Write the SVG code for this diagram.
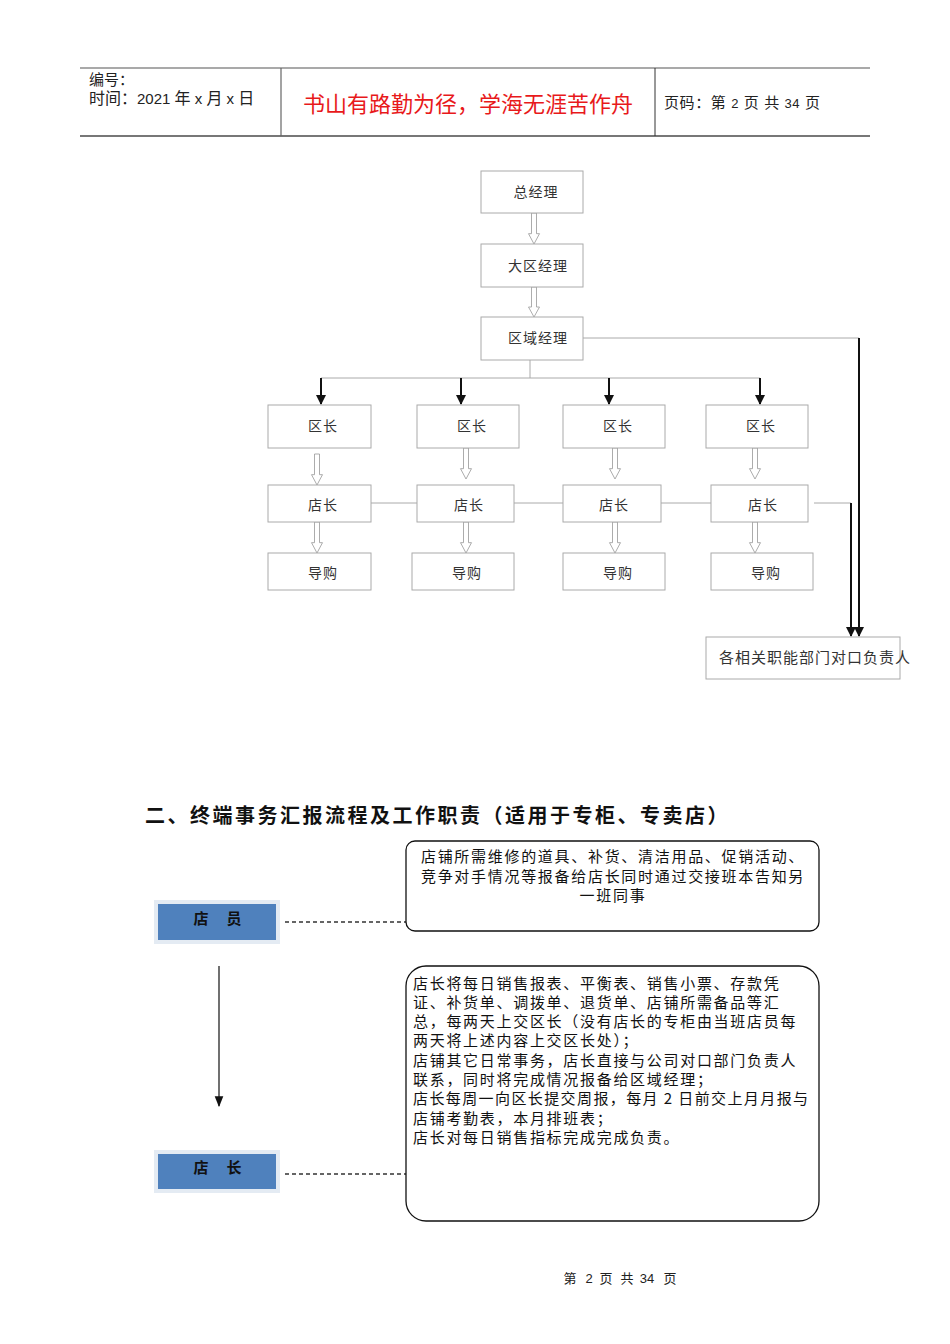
<svg xmlns="http://www.w3.org/2000/svg" width="950" height="1344" viewBox="0 0 950 1344">
<defs>
<style>
.t{font-family:"Liberation Sans","Noto Sans CJK SC",sans-serif;fill:#222}
.c{font-family:"Noto Sans CJK SC",sans-serif;fill:#333;font-size:14px;text-anchor:middle;letter-spacing:1px}
.box{fill:#fff;stroke:#aaa;stroke-width:1}
.ha{fill:#fff;stroke:#999;stroke-width:0.8}
.thin{stroke:#aaa;stroke-width:1;fill:none}
.blk{stroke:#111;stroke-width:2;fill:none}
.rb{fill:#fff;stroke:#111;stroke-width:1.3}
.blue{fill:#4f81bd;stroke:#e4ebf3;stroke-width:4}
.dash{stroke:#333;stroke-width:1.3;stroke-dasharray:4,3;fill:none}
.nt{font-family:"Noto Sans CJK SC",sans-serif;font-size:15px;fill:#111;letter-spacing:1.7px}
.bl{font-family:"Noto Sans CJK SC",sans-serif;font-size:15px;font-weight:bold;fill:#111;text-anchor:middle}
</style>
<marker id="ah" viewBox="0 0 10 10" refX="9" refY="5" markerWidth="5" markerHeight="6" orient="auto" markerUnits="strokeWidth"><path d="M0,0 L10,5 L0,10 z" fill="#111"/></marker>
<marker id="ah2" viewBox="0 0 10 10" refX="9" refY="5" markerWidth="9" markerHeight="9" orient="auto" markerUnits="strokeWidth"><path d="M0,1 L10,5 L0,9 z" fill="#111"/></marker>
<symbol id="hollow" viewBox="0 0 12 30" preserveAspectRatio="none" overflow="visible"><path d="M3.5,0 H8.5 V20 H11.5 L6,30 L0.5,20 H3.5 Z" class="ha"/></symbol>
</defs>

<g id="header">
<line x1="80" y1="68" x2="870" y2="68" stroke="#555" stroke-width="1.2"/>
<line x1="80" y1="136" x2="870" y2="136" stroke="#777" stroke-width="2"/>
<line x1="281" y1="68" x2="281" y2="136" stroke="#666" stroke-width="1.2"/>
<line x1="655" y1="68" x2="655" y2="136" stroke="#333" stroke-width="1"/>
<text class="t" x="89" y="85" font-size="15">编号：</text>
<text class="t" x="89" y="104" font-size="15"><tspan font-size="16">时间：</tspan>2021 <tspan font-size="16">年</tspan> x <tspan font-size="16">月</tspan> x <tspan font-size="16">日</tspan></text>
<text x="468" y="112" font-size="22" text-anchor="middle" fill="#e8191b" font-family="Noto Sans CJK SC,sans-serif">书山有路勤为径，学海无涯苦作舟</text>
<text class="t" x="664" y="108" font-size="15" letter-spacing="0.6">页码：第 <tspan font-size="13">2</tspan> 页  共 <tspan font-size="13">34</tspan> 页</text>
</g>

<g id="connectors">
<use href="#hollow" x="528" y="213" width="12" height="31"/>
<use href="#hollow" x="528" y="287" width="12" height="30"/>
<polyline class="thin" points="583,338 859,338"/>
<line class="blk" x1="859" y1="338" x2="859" y2="636" marker-end="url(#ah)"/>
<line class="thin" x1="530" y1="360" x2="530" y2="378"/>
<line class="thin" x1="321" y1="378" x2="760" y2="378"/>
<line class="blk" x1="321" y1="378" x2="321" y2="404" marker-end="url(#ah)"/>
<line class="blk" x1="461" y1="378" x2="461" y2="404" marker-end="url(#ah)"/>
<line class="blk" x1="609" y1="378" x2="609" y2="404" marker-end="url(#ah)"/>
<line class="blk" x1="760" y1="378" x2="760" y2="404" marker-end="url(#ah)"/>
<use href="#hollow" x="311" y="454" width="12" height="31"/>
<use href="#hollow" x="460" y="448" width="12" height="31"/>
<use href="#hollow" x="609" y="448" width="12" height="31"/>
<use href="#hollow" x="749" y="448" width="12" height="31"/>
<use href="#hollow" x="311" y="522" width="12" height="31"/>
<use href="#hollow" x="460" y="522" width="12" height="31"/>
<use href="#hollow" x="609" y="522" width="12" height="31"/>
<use href="#hollow" x="749" y="522" width="12" height="31"/>
<line class="thin" x1="371" y1="503" x2="417" y2="503"/>
<line class="thin" x1="514" y1="503" x2="563" y2="503"/>
<line class="thin" x1="661" y1="503" x2="711" y2="503"/>
<line class="thin" x1="814" y1="503" x2="851" y2="503"/>
<line class="blk" x1="851" y1="503" x2="851" y2="636" marker-end="url(#ah)"/>
<line class="dash" x1="285" y1="922" x2="406" y2="922"/>
<line class="dash" x1="285" y1="1174" x2="406" y2="1174"/>
<line x1="219" y1="966" x2="219" y2="1106" stroke="#111" stroke-width="1.2" marker-end="url(#ah2)"/>
</g>

<g id="n-zjl"><rect class="box" x="481" y="171" width="102" height="42"/><text class="c" x="536" y="197">总经理</text></g>
<g id="n-dqjl"><rect class="box" x="481" y="244" width="102" height="43"/><text class="c" x="538" y="271">大区经理</text></g>
<g id="n-qyjl"><rect class="box" x="481" y="317" width="102" height="43"/><text class="c" x="538" y="343">区域经理</text></g>

<g id="n-qz1"><rect class="box" x="268" y="405" width="103" height="43"/><text class="c" x="323" y="431" letter-spacing="3">区长</text></g>
<g id="n-qz2"><rect class="box" x="417" y="405" width="102" height="43"/><text class="c" x="472" y="431" letter-spacing="3">区长</text></g>
<g id="n-qz3"><rect class="box" x="563" y="405" width="102" height="43"/><text class="c" x="618" y="431" letter-spacing="3">区长</text></g>
<g id="n-qz4"><rect class="box" x="706" y="405" width="102" height="43"/><text class="c" x="761" y="431" letter-spacing="3">区长</text></g>

<g id="n-dz1"><rect class="box" x="268" y="485" width="103" height="37"/><text class="c" x="323" y="510" letter-spacing="3">店长</text></g>
<g id="n-dz2"><rect class="box" x="417" y="485" width="97" height="37"/><text class="c" x="469" y="510" letter-spacing="3">店长</text></g>
<g id="n-dz3"><rect class="box" x="563" y="485" width="98" height="37"/><text class="c" x="614" y="510" letter-spacing="3">店长</text></g>
<g id="n-dz4"><rect class="box" x="711" y="485" width="97" height="37"/><text class="c" x="763" y="510" letter-spacing="3">店长</text></g>

<g id="n-dg1"><rect class="box" x="268" y="553" width="103" height="37"/><text class="c" x="323" y="578">导购</text></g>
<g id="n-dg2"><rect class="box" x="412" y="553" width="102" height="37"/><text class="c" x="467" y="578">导购</text></g>
<g id="n-dg3"><rect class="box" x="563" y="553" width="102" height="37"/><text class="c" x="618" y="578">导购</text></g>
<g id="n-dg4"><rect class="box" x="711" y="553" width="102" height="37"/><text class="c" x="766" y="578">导购</text></g>

<g id="n-bm"><rect class="box" x="706" y="637" width="194" height="42"/><text class="c" x="815" y="663" style="font-size:15px;letter-spacing:1px">各相关职能部门对口负责人</text></g>

<g id="heading"><text x="145" y="823" font-size="20" font-weight="bold" fill="#111" letter-spacing="2.5" font-family="Noto Sans CJK SC,sans-serif">二、终端事务汇报流程及工作职责（适用于专柜、专卖店）</text></g>

<g id="n-note1"><rect class="rb" x="406" y="841" width="413" height="90" rx="9"/>
<text class="nt" text-anchor="middle"><tspan x="613" y="862">店铺所需维修的道具、补货、清洁用品、促销活动、</tspan><tspan x="613" y="882">竞争对手情况等报备给店长同时通过交接班本告知另</tspan><tspan x="613" y="901">一班同事</tspan></text></g>

<g id="n-dy"><rect class="blue" x="156" y="902" width="122" height="40"/><text class="bl" y="924"><tspan x="201">店</tspan><tspan x="234">员</tspan></text></g>

<g id="n-note2"><rect class="rb" x="406" y="966" width="413" height="255" rx="20"/>
<text class="nt"><tspan x="413" y="989">店长将每日销售报表、平衡表、销售小票、存款凭</tspan><tspan x="413" y="1008">证、补货单、调拨单、退货单、店铺所需备品等汇</tspan><tspan x="413" y="1027">总，每两天上交区长（没有店长的专柜由当班店员每</tspan><tspan x="413" y="1046">两天将上述内容上交区长处）；</tspan><tspan x="413" y="1066">店铺其它日常事务，店长直接与公司对口部门负责人</tspan><tspan x="413" y="1085">联系，同时将完成情况报备给区域经理；</tspan><tspan x="413" y="1104" letter-spacing="1.4">店长每周一向区长提交周报，每月 2 日前交上月月报与</tspan><tspan x="413" y="1124">店铺考勤表，本月排班表；</tspan><tspan x="413" y="1143">店长对每日销售指标完成完成负责。</tspan></text></g>

<g id="n-dz"><rect class="blue" x="156" y="1152" width="122" height="39"/><text class="bl" y="1173"><tspan x="201">店</tspan><tspan x="234">长</tspan></text></g>

<g id="footer"><text class="t" y="1283" font-size="13" text-anchor="middle" fill="#444"><tspan x="570">第</tspan><tspan x="589">2</tspan><tspan x="606">页</tspan><tspan x="627">共</tspan><tspan x="647">34</tspan><tspan x="670">页</tspan></text></g>
</svg>
